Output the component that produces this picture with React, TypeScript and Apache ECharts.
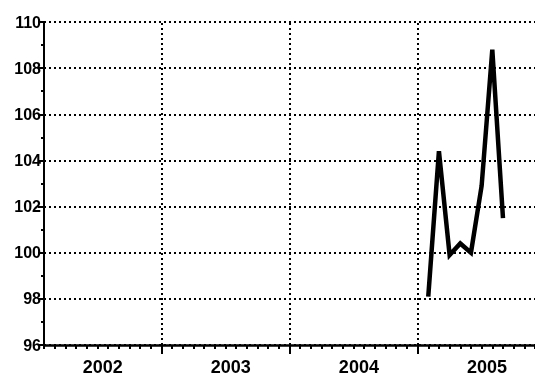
import React, { useEffect, useRef } from "react";
import * as echarts from "echarts";

const months = ["2005-02", "2005-03", "2005-04", "2005-05", "2005-06", "2005-07", "2005-08", "2005-09"];
const values = [98.1, 104.4, 99.9, 100.4, 100.0, 102.9, 108.8, 101.5];
const years = ["2002", "2003", "2004", "2005"];
const yTicks = [96, 98, 100, 102, 104, 106, 108, 110];

const BASE_YEAR = 2002;
const toIndex = (m: string) => {
  const [y, mo] = m.split("-").map(Number);
  return (y - BASE_YEAR) * 12 + (mo - 1);
};

export default function App() {
  const ref = useRef<HTMLDivElement>(null);
  useEffect(() => {
    if (!ref.current) return;
    const chart = echarts.init(ref.current, null, { renderer: "svg" });
    const boundaries = years.slice(1).map((_, i) => (i + 1) * 12);
    const labelPos = years.map((_, i) => i * 12 + 6.5);
    const font = "'Liberation Sans Narrow', 'Liberation Sans', Arial, sans-serif";
    chart.setOption({
      animation: false,
      grid: { left: 44, right: 0, top: 22, bottom: 33, containLabel: false },
      xAxis: [
        {
          type: "value",
          min: 1,
          max: 47,
          interval: 1,
          axisLine: { show: true, lineStyle: { color: "#000", width: 2.5 } },
          axisTick: { show: true, inside: false, length: 4, lineStyle: { color: "#000", width: 2 } },
          axisLabel: { show: false },
          splitLine: { show: false },
        },
        {
          type: "value",
          min: 1,
          max: 47,
          position: "bottom",
          axisLine: { show: false },
          axisTick: { show: true, length: 9, customValues: boundaries, lineStyle: { color: "#000", width: 2 } },
          axisLabel: {
            show: true,
            customValues: labelPos,
            margin: 13,
            formatter: (v: number) => years[Math.floor(v / 12)] ?? "",
            fontFamily: font,
            fontWeight: "bold",
            fontSize: 18,
            color: "#000",
          },
          splitLine: { show: false },
        },
      ],
      yAxis: {
        type: "value",
        min: yTicks[0],
        max: yTicks[yTicks.length - 1],
        interval: 2,
        axisLine: { show: true, lineStyle: { color: "#000", width: 2 } },
        axisTick: { show: true, length: 6, lineStyle: { color: "#000", width: 2 } },
        minorTick: { show: true, splitNumber: 2, length: 3, lineStyle: { color: "#000", width: 2 } },
        axisLabel: {
          margin: 3,
          fontFamily: font,
          fontWeight: "bold",
          fontSize: 16,
          color: "#000",
        },
        splitLine: { show: true, lineStyle: { color: "#000", width: 2, type: [2, 3] } },
      },
      series: [
        {
          type: "line",
          xAxisIndex: 0,
          data: months.map((m, i) => [toIndex(m), values[i]]),
          showSymbol: false,
          symbol: "none",
          lineStyle: { color: "#000", width: 4.5, join: "miter" },
          markLine: {
            silent: true,
            symbol: "none",
            label: { show: false },
            lineStyle: { color: "#000", width: 2, type: [2, 3] },
            data: boundaries.map((b) => ({ xAxis: b })),
          },
          z: 5,
        },
      ],
    });
    return () => chart.dispose();
  }, []);
  return (
    <div
      ref={ref}
      style={{ position: "fixed", left: 0, top: 0, width: 535, height: 378 }}
    />
  );
}
